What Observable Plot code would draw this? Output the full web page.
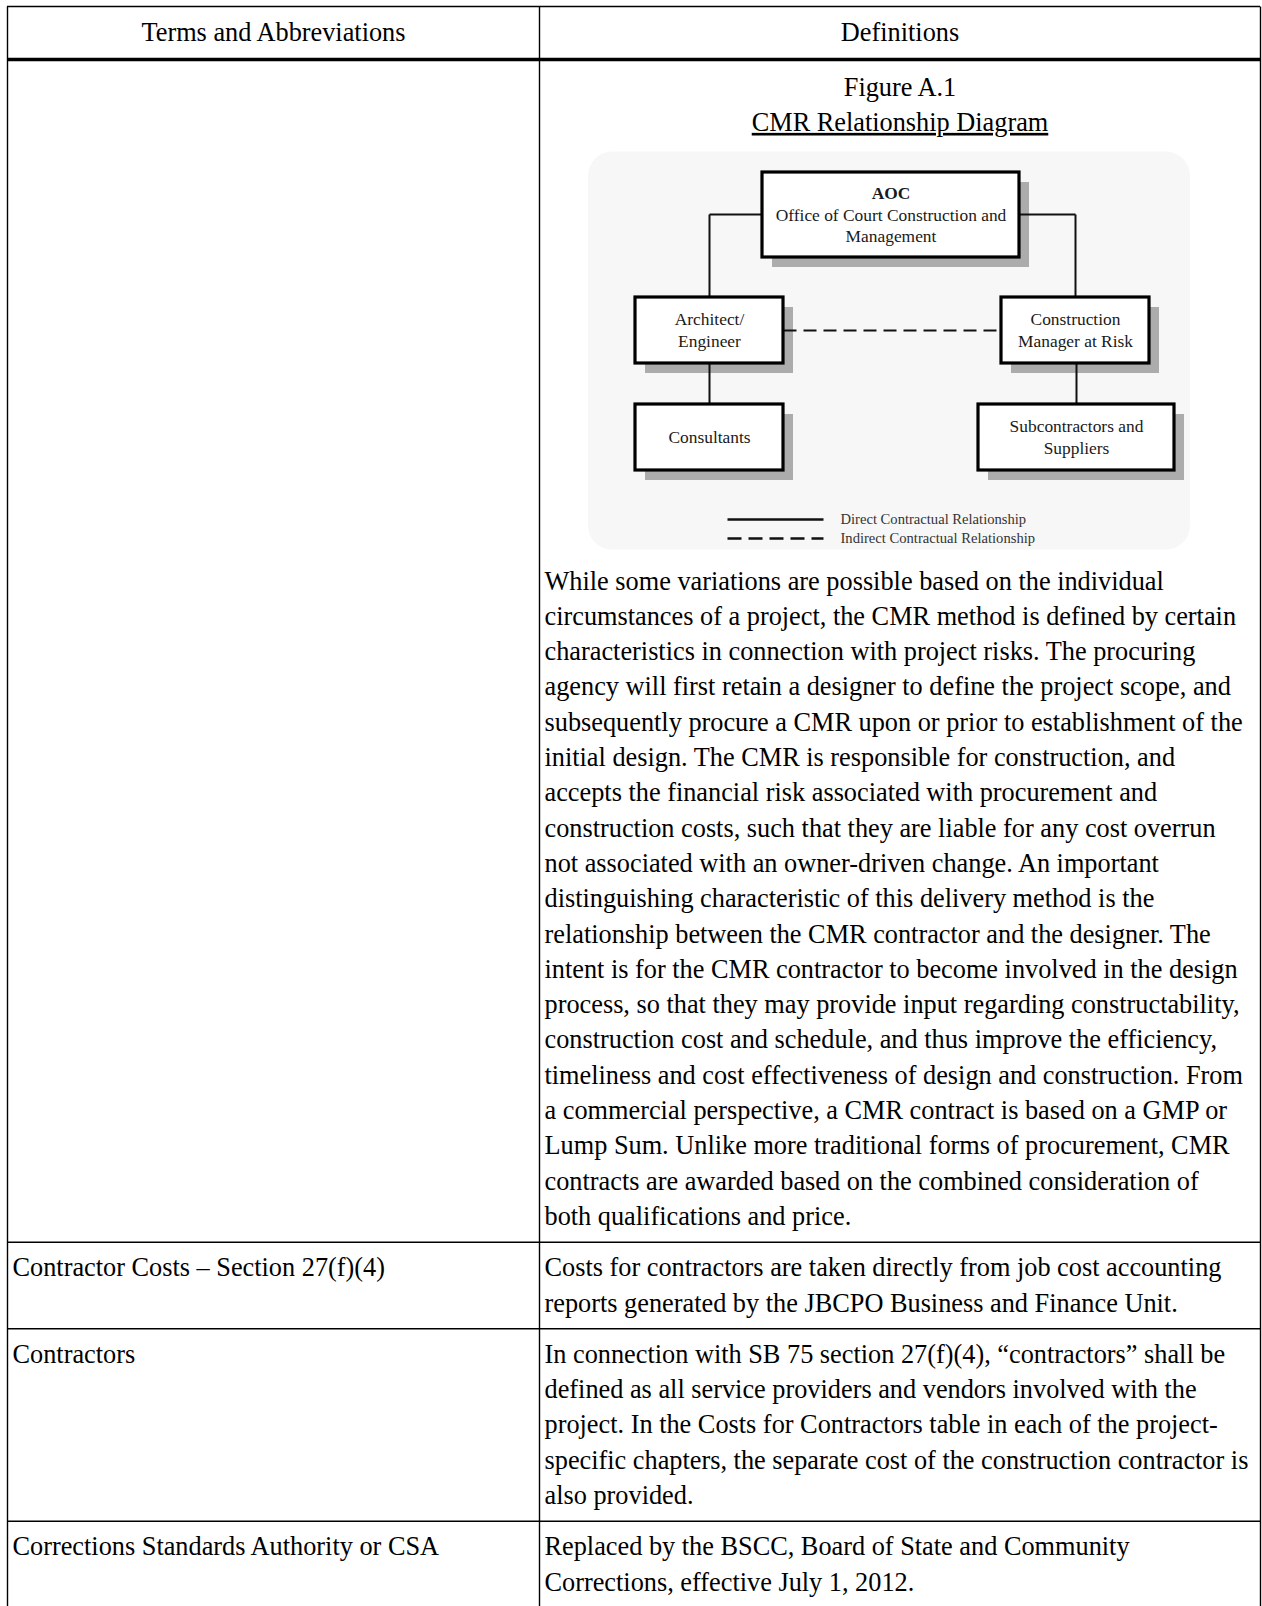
<!DOCTYPE html>
<html>
<head>
<meta charset="utf-8">
<script src="https://cdn.jsdelivr.net/npm/d3@7"></script>
<script src="https://cdn.jsdelivr.net/npm/@observablehq/plot@0.6"></script>
<style>
  html, body { margin: 0; padding: 0; background: #fff; }
  #chart svg { display: block; }
</style>
</head>
<body>
<div id="chart"></div>
<script>
// ---------------- DATA ----------------
const headers = ["Terms and Abbreviations", "Definitions"];
const terms = ["", "Contractor Costs – Section 27(f)(4)", "Contractors", "Corrections Standards Authority or CSA"];
const figureTitle = "Figure A.1";
const figureName = "CMR Relationship Diagram";
const definitionRow1 = [
  "While some variations are possible based on the individual",
  "circumstances of a project, the CMR method is defined by certain",
  "characteristics in connection with project risks. The procuring",
  "agency will first retain a designer to define the project scope, and",
  "subsequently procure a CMR upon or prior to establishment of the",
  "initial design. The CMR is responsible for construction, and",
  "accepts the financial risk associated with procurement and",
  "construction costs, such that they are liable for any cost overrun",
  "not associated with an owner-driven change. An important",
  "distinguishing characteristic of this delivery method is the",
  "relationship between the CMR contractor and the designer. The",
  "intent is for the CMR contractor to become involved in the design",
  "process, so that they may provide input regarding constructability,",
  "construction cost and schedule, and thus improve the efficiency,",
  "timeliness and cost effectiveness of design and construction. From",
  "a commercial perspective, a CMR contract is based on a GMP or",
  "Lump Sum. Unlike more traditional forms of procurement, CMR",
  "contracts are awarded based on the combined consideration of",
  "both qualifications and price."
];
const definitionRow2 = [
  "Costs for contractors are taken directly from job cost accounting",
  "reports generated by the JBCPO Business and Finance Unit."
];
const definitionRow3 = [
  "In connection with SB 75 section 27(f)(4), “contractors” shall be",
  "defined as all service providers and vendors involved with the",
  "project. In the Costs for Contractors table in each of the project-",
  "specific chapters, the separate cost of the construction contractor is",
  "also provided."
];
const definitionRow4 = [
  "Replaced by the BSCC, Board of State and Community",
  "Corrections, effective July 1, 2012."
];
const nodeIds = ["aoc", "ae", "cmr", "cons", "subs"];
const nodeTitles = ["AOC", "", "", "", ""];
const nodeLabels = [
  ["Office of Court Construction and", "Management"],
  ["Architect/", "Engineer"],
  ["Construction", "Manager at Risk"],
  ["Consultants"],
  ["Subcontractors and", "Suppliers"]
];
const relations = [["aoc", "ae", "direct"], ["aoc", "cmr", "direct"], ["ae", "cons", "direct"], ["cmr", "subs", "direct"], ["ae", "cmr", "indirect"]];
const legendLabels = ["Direct Contractual Relationship", "Indirect Contractual Relationship"];

// ---------------- LAYOUT ----------------
const W = 1262, H = 1606;
const FS = 26.3, L = 35.3, PAD = 8;
const FONT = "'Liberation Serif', 'Times New Roman', serif";
const tLeft = 7, tRight = 1260, tSplit = 539, tTop = 6;
const headRule = tTop + 2 * PAD + L + 1.7;
const row1Top = headRule + 2;
const diagTop = row1Top + PAD + 2 * L;
const DIAG_H = 423.4;
const paraTop = diagTop + DIAG_H;

// diagram box geometry (x absolute, y offset from diagTop)
const boxGeom = {
  aoc:  {x1: 762, x2: 1019, y1: 32.4, y2: 117.4},
  ae:   {x1: 635, x2: 783,  y1: 157.4, y2: 223.4},
  cmr:  {x1: 1001, x2: 1149, y1: 157.4, y2: 223.4},
  cons: {x1: 635, x2: 783,  y1: 264.4, y2: 330.4},
  subs: {x1: 978, x2: 1174, y1: 264.4, y2: 330.4}
};
const aocLinkY = 74.4;
const bg = {x1: 588, x2: 1190, y1: 12, y2: 410};
const legend = {x1: 727, x2: 823, tx: 840, y: [379.4, 398.4]};

// rows
const defs = [null, definitionRow2, definitionRow3, definitionRow4];
const rowLines = [];
const textItems = [];
textItems.push({x: (tLeft + tSplit) / 2, y: tTop + PAD + L / 2, text: headers[0], anchor: "middle"});
textItems.push({x: (tSplit + tRight) / 2, y: tTop + PAD + L / 2, text: headers[1], anchor: "middle"});
textItems.push({x: (tSplit + tRight) / 2, y: row1Top + PAD + L / 2, text: figureTitle, anchor: "middle"});
textItems.push({x: (tSplit + tRight) / 2, y: row1Top + PAD + 1.5 * L, text: figureName, anchor: "middle"});
definitionRow1.forEach((t, i) => textItems.push({x: tSplit + 5, y: paraTop + L / 2 + i * L, text: t, anchor: "start"}));
let rowBottom = paraTop + definitionRow1.length * L + PAD;
rowLines.push(rowBottom);
for (let r = 1; r < terms.length; r++) {
  const top = rowBottom;
  textItems.push({x: tLeft + 5, y: top + PAD + L / 2, text: terms[r], anchor: "start"});
  defs[r].forEach((t, i) => textItems.push({x: tSplit + 5, y: top + PAD + L / 2 + i * L, text: t, anchor: "start"}));
  rowBottom = top + 2 * PAD + defs[r].length * L;
  rowLines.push(rowBottom);
}

// diagram items
const boxes = nodeIds.map(id => ({id, ...boxGeom[id], y1: diagTop + boxGeom[id].y1, y2: diagTop + boxGeom[id].y2}));
const boxById = Object.fromEntries(boxes.map(b => [b.id, b]));
const DFS = 17.4, DL = 21.5;
const boxTexts = [];
nodeIds.forEach((id, i) => {
  const b = boxById[id];
  const lines = (nodeTitles[i] ? [nodeTitles[i]] : []).concat(nodeLabels[i]);
  const cy = (b.y1 + b.y2) / 2;
  lines.forEach((t, k) => boxTexts.push({x: (b.x1 + b.x2) / 2, y: cy + (k - (lines.length - 1) / 2) * DL, text: t, bold: k === 0 && !!nodeTitles[i]}));
});
const links = [];
relations.forEach(([a, b, kind]) => {
  const A = boxById[a], B = boxById[b];
  if (kind === "indirect") {
    const y = (A.y1 + A.y2) / 2;
    links.push({x1: A.x2, y1: y, x2: B.x1, y2: y, kind});
  } else if (a === "aoc") {
    const bx = (B.x1 + B.x2) / 2;
    const ax = bx < A.x1 ? A.x1 : A.x2;
    links.push({x1: ax, y1: diagTop + aocLinkY, x2: bx, y2: diagTop + aocLinkY, kind});
    links.push({x1: bx, y1: diagTop + aocLinkY, x2: bx, y2: B.y1, kind});
  } else {
    const x = (B.x1 + B.x2) / 2;
    links.push({x1: x, y1: A.y2, x2: x, y2: B.y1, kind});
  }
});
const legendItems = legendLabels.map((t, i) => ({x1: legend.x1, x2: legend.x2, tx: legend.tx, y: diagTop + legend.y[i], text: t, kind: i === 0 ? "direct" : "indirect"}));

const tableV = [{x: tLeft, y1: tTop, y2: H + 5}, {x: tSplit, y1: tTop, y2: H + 5}, {x: tRight, y1: tTop, y2: H + 5}];
const thinH = [tTop].concat(rowLines);

const chart = Plot.plot({
  width: W, height: H, margin: 0,
  x: {type: "linear", domain: [0, W], range: [0, W], axis: null},
  y: {type: "linear", domain: [0, H], range: [0, H], axis: null},
  style: {fontFamily: FONT, background: "#fff", color: "#000"},
  marks: [
    Plot.rect([bg], {x1: "x1", x2: "x2", y1: d => diagTop + d.y1, y2: d => diagTop + d.y2, fill: "#f7f7f7", rx: 24}),
    Plot.rect(boxes, {x1: d => d.x1 + 10, x2: d => d.x2 + 10, y1: d => d.y1 + 10, y2: d => d.y2 + 10, fill: "#acacac"}),
    Plot.link(links.filter(d => d.kind === "direct"), {x1: "x1", y1: "y1", x2: "x2", y2: "y2", stroke: "#111", strokeWidth: 2}),
    Plot.link(links.filter(d => d.kind === "indirect"), {x1: "x1", y1: "y1", x2: "x2", y2: "y2", stroke: "#111", strokeWidth: 2.2, strokeDasharray: "13,7"}),
    Plot.rect(boxes, {x1: "x1", x2: "x2", y1: "y1", y2: "y2", fill: "#fff", stroke: "#000", strokeWidth: 3.2}),
    Plot.text(boxTexts.filter(d => !d.bold), {x: "x", y: "y", text: "text", fontSize: DFS, fill: "#1a1a1a", textAnchor: "middle", lineAnchor: "middle", fontFamily: FONT}),
    Plot.text(boxTexts.filter(d => d.bold), {x: "x", y: "y", text: "text", fontSize: DFS, fill: "#1a1a1a", fontWeight: "bold", textAnchor: "middle", lineAnchor: "middle", fontFamily: FONT}),
    Plot.link(legendItems.filter(d => d.kind === "direct"), {x1: "x1", x2: "x2", y1: "y", y2: "y", stroke: "#111", strokeWidth: 2.4}),
    Plot.link(legendItems.filter(d => d.kind === "indirect"), {x1: "x1", x2: "x2", y1: "y", y2: "y", stroke: "#111", strokeWidth: 2.4, strokeDasharray: "14,7"}),
    Plot.text(legendItems, {x: "tx", y: "y", text: "text", fontSize: 14.6, fill: "#333", textAnchor: "start", lineAnchor: "middle", fontFamily: FONT}),
    Plot.link(tableV, {x1: "x", x2: "x", y1: "y1", y2: "y2", stroke: "#000", strokeWidth: 1.4}),
    Plot.ruleY(thinH, {x1: tLeft, x2: tRight, stroke: "#000", strokeWidth: 1.4}),
    Plot.ruleY([headRule], {x1: tLeft, x2: tRight, stroke: "#000", strokeWidth: 3.6}),
    Plot.text(textItems.filter(d => d.anchor === "middle"), {x: "x", y: "y", text: "text", fontSize: FS, textAnchor: "middle", lineAnchor: "middle", fill: "#000", fontFamily: FONT}),
    Plot.text(textItems.filter(d => d.anchor === "start"), {x: "x", y: "y", text: "text", fontSize: FS, textAnchor: "start", lineAnchor: "middle", fill: "#000", fontFamily: FONT})
  ]
});
document.getElementById("chart").appendChild(chart);
d3.select(chart).selectAll("text").each(function() {
  if (this.textContent === figureName) d3.select(this).style("text-decoration", "underline");
});
</script>
</body>
</html>
